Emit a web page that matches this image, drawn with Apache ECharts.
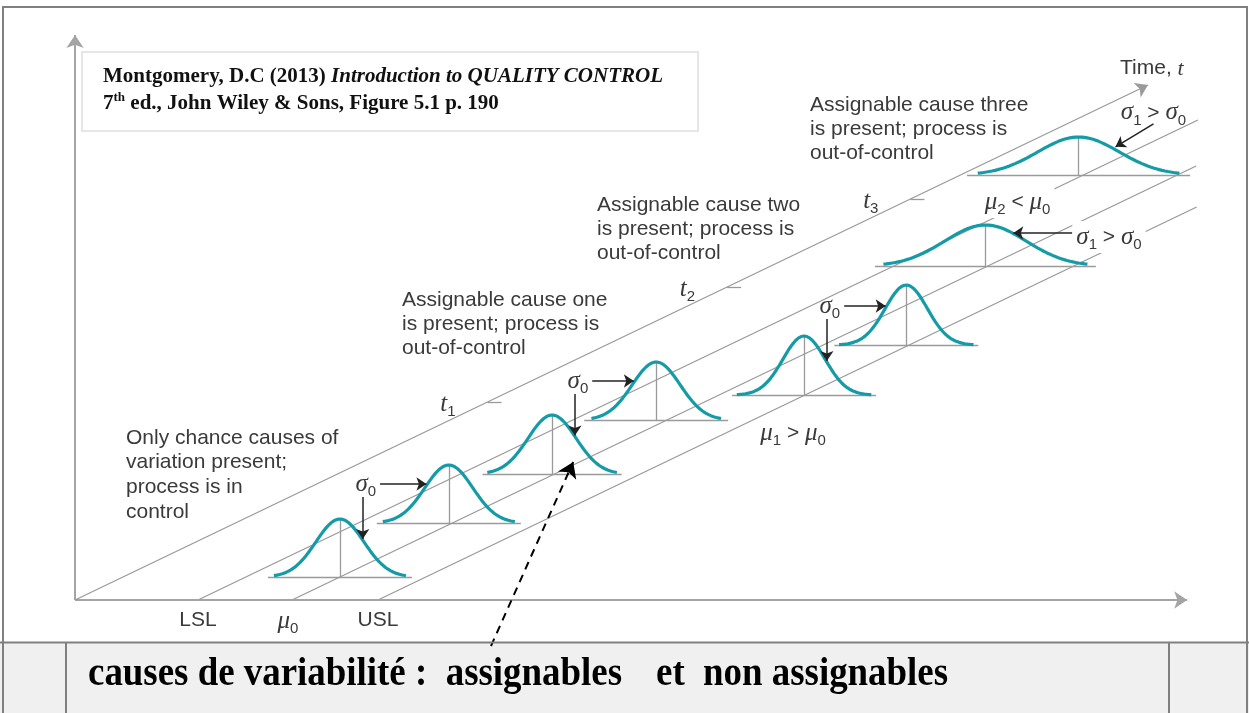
<!DOCTYPE html>
<html>
<head>
<meta charset="utf-8">
<script src="https://cdn.jsdelivr.net/npm/echarts@6/dist/echarts.min.js"></script>
<style>
  html, body { margin: 0; padding: 0; background: #fff; }
  #chart { width: 1249px; height: 713px; }
</style>
</head>
<body>
<div id="chart"></div>
<script>
// ---- values --------------------------------------------------------------
// Quality characteristic, in units of sigma0 (mu0 = 0)
const specNames  = ['LSL', 'μ0', 'USL'];
const specValues = [-3.92, 0, 3.58];
const specLineEnds = [4.80, 4.34, 3.93];   // time at which each guide line stops
const timeAxisValue = -9.04;               // the time axis sits left of the spec lines
const timeAxisEnd = 5.15;
const xAxisEnd = 37.3;
const densityAxisTop = 565;

// Distributions drawn along time
const distTimes  = [0.23, 0.77, 1.26, 1.80, 2.05, 2.55, 3.34, 4.25];
const distMeans  = [0, -0.15, -0.1, -0.45, 3.54, 3.46, -0.1, -4.12];
const distSigmas = [1, 1, 1, 1, 0.88, 0.88, 1.7, 1.7];
const distPeaks  = [58, 58, 59, 58, 59, 60, 41, 38];
const distSpans  = [2.75, 2.75, 2.7, 2.7, 2.8, 2.8, 4.25, 4.2];
const baseSpans  = [3.0, 3.0, 2.9, 3.0, 3.0, 3.0, 4.6, 4.65];

// Time ticks
const timeTicks = [1.98, 3.13, 4.01];
const timeTickLabels = ['1', '2', '3'];

// sigma0 annotations: [earlier curve, later curve]
const sigma0Pairs = [[0, 1], [2, 3], [4, 5]];

// ---- layout --------------------------------------------------------------
const W = 1249, H = 713;
const ORIGIN_Y = 600, MU0_X = 292, UNIT = 24, TIME_PX = 100, SLOPE = 0.48;
const TEAL = '#159ba7', GUIDE = '#9a9a9a', AXIS = '#a4a4a4', INK = '#3a3a3a', ARROW = '#222';
const SANS = '"Liberation Sans", Arial, sans-serif';
const SERIF = '"Liberation Serif", "Times New Roman", serif';

// skewed plane: value runs horizontally, time runs up the diagonal
function P(v, t, up) {
  return [MU0_X + v * UNIT + t * TIME_PX / SLOPE, ORIGIN_Y - t * TIME_PX - (up || 0)];
}
function dens(i, v) {
  const z = (v - distMeans[i]) / distSigmas[i];
  return distPeaks[i] * Math.exp(-0.5 * z * z);
}
function flankOffset(i, h) { // offset (value units) where curve i reaches height h
  return distSigmas[i] * Math.sqrt(-2 * Math.log(h / distPeaks[i]));
}

// ---- series ----------------------------------------------------------------
const guideLines = [];
specValues.forEach((v, k) => guideLines.push({ coords: [P(v, 0), P(v, specLineEnds[k])] }));
timeTicks.forEach(t => {
  const a = P(timeAxisValue, t);
  guideLines.push({ coords: [a, [a[0] + 14, a[1]]] });
});

const baseLines = [];
const curveSeries = [];
distTimes.forEach((t, i) => {
  const m = distMeans[i];
  baseLines.push({ coords: [P(m - baseSpans[i], t), P(m + baseSpans[i], t)] });
  baseLines.push({ coords: [P(m, t), P(m, t, distPeaks[i])] });
  const pts = [];
  const n = 140;
  for (let k = 0; k <= n; k++) {
    const v = m - distSpans[i] + 2 * distSpans[i] * k / n;
    pts.push(P(v, t, dens(i, v)));
  }
  curveSeries.push({
    type: 'line', data: pts, showSymbol: false, symbol: 'none', silent: true, z: 6,
    lineStyle: { color: TEAL, width: 3.2 }
  });
});

// arrows and labels
const arrows = [];
const graphics = [];
const mctx = document.createElement('canvas').getContext('2d');
function tw(text, font) { mctx.font = font; return mctx.measureText(text).width; }
function runs(x, y, parts, align, opts) {
  opts = opts || {};
  const sx = opts.scaleX || 1;
  const total = parts.reduce((s, p) => s + tw(p[0], p[1]) * sx, 0);
  let cx = align === 'center' ? x - total / 2 : (align === 'right' ? x - total : x);
  if (opts.bg) {
    graphics.push({ type: 'rect', z: 15, shape: { x: cx - 4, y: y - 16, width: total + 8, height: 32 },
      style: { fill: '#fff' } });
  }
  parts.forEach(p => {
    graphics.push({ type: 'text', x: cx, y: y + (p[2] || 0), z: 20, scaleX: sx,
      style: { text: p[0], font: p[1], fill: p[3] || INK, textAlign: 'left', align: 'left',
               textVerticalAlign: 'middle', verticalAlign: 'middle' } });
    cx += tw(p[0], p[1]) * sx;
  });
  return total;
}
const F_GREEK = 'italic 25px ' + SERIF;
const F_SUB = '15px ' + SANS;
const F_OP = '21px ' + SANS;
function sym(g, s) { return [[g, F_GREEK, 0], [s, F_SUB, 8]]; }

sigma0Pairs.forEach(([a, b]) => {
  const ta = distTimes[a], tb = distTimes[b];
  const baseB = P(0, tb)[1];
  const labelY = baseB - 39;
  const vx = distMeans[a] + 0.95;
  const tip = P(vx, ta, dens(a, vx) + 1);
  arrows.push({ coords: [[tip[0], labelY + 13], tip] });
  const w = runs(tip[0] + 3, labelY, sym('σ', '0'), 'center');
  const hb = baseB - labelY;
  const target = P(distMeans[b] - flankOffset(b, hb), tb, hb);
  arrows.push({ coords: [[tip[0] + 3 + w / 2 + 4, labelY], [target[0] - 1, labelY]] });
});

// sigma1 > sigma0, curve 7
{
  const i = 6, h = 33;
  const tip = P(distMeans[i] + flankOffset(i, h), distTimes[i], h);
  arrows.push({ coords: [[tip[0] + 60, tip[1]], [tip[0] + 1, tip[1]]] });
  runs(tip[0] + 64, tip[1] + 4, [...sym('σ', '1'), [' > ', F_OP, 0], ...sym('σ', '0')], 'left', { bg: true });
}
// sigma1 > sigma0, curve 8
{
  const i = 7, dv = 1.54;
  const v = distMeans[i] + dv;
  const tip = P(v, distTimes[i], dens(i, v) + 3);
  const tail = [tip[0] + 38, tip[1] - 23];
  arrows.push({ coords: [tail, tip] });
  runs(tail[0], tail[1] - 11, [...sym('σ', '1'), [' > ', F_OP, 0], ...sym('σ', '0')], 'center');
}
// mean shifts
{
  const c5 = P(distMeans[4], distTimes[4]);
  runs(c5[0] - 11, c5[1] + 38, [...sym('μ', '1'), [' > ', F_OP, 0], ...sym('μ', '0')], 'center');
  const c8 = P(distMeans[7], distTimes[7]);
  runs(c8[0] - 61, c8[1] + 27, [...sym('μ', '2'), [' < ', F_OP, 0], ...sym('μ', '0')], 'center', { bg: true });
}
// time ticks
timeTicks.forEach((t, k) => {
  const a = P(timeAxisValue, t);
  runs(a[0] - 32, a[1] + 2, [['t', F_GREEK, 0], [timeTickLabels[k], F_SUB, 8]], 'right');
});
// spec labels
specNames.forEach((name, k) => {
  const p = P(specValues[k], 0);
  if (name === 'μ0') runs(p[0] - 4, p[1] + 21, sym('μ', '0'), 'center');
  else runs(p[0], p[1] + 20, [[name, '21px ' + SANS, 0]], 'center');
});

// dashed pointer into the third distribution
const dashTip = P(distMeans[2] + 0.88, distTimes[2], 12);

// axes
const origin = P(timeAxisValue, 0);
const axisArrows = [
  { coords: [origin, [origin[0], origin[1] - densityAxisTop]] },
  { coords: [origin, P(xAxisEnd, 0)] }
];
const timeAxis = [{ coords: [origin, P(timeAxisValue, timeAxisEnd)] }];

// ---- text blocks -----------------------------------------------------------
const F_TXT = '21px ' + SANS;
function block(x, y0, step, lines) {
  lines.forEach((s, k) => runs(x, y0 + k * step, [[s, F_TXT, 0]], 'left'));
}
block(126, 438, 24.7, ['Only chance causes of', 'variation present;', 'process is in', 'control']);
block(402, 300, 24, ['Assignable cause one', 'is present; process is', 'out-of-control']);
block(597, 205, 24, ['Assignable cause two', 'is present; process is', 'out-of-control']);
block(810, 105, 24, ['Assignable cause three', 'is present; process is', 'out-of-control']);
runs(1120, 68, [['Time, ', F_TXT, 0], ['t', 'italic 22px ' + SERIF, 1]], 'left');

// citation
const F_CB = 'bold 21px ' + SERIF, F_CBI = 'italic bold 21px ' + SERIF;
runs(103, 77, [['Montgomery, D.C (2013) ', F_CB, 0, '#111'], ['Introduction to QUALITY CONTROL', F_CBI, 0, '#111']], 'left');
runs(103, 104, [['7', F_CB, 0, '#111'], ['th', 'bold 13px ' + SERIF, -6, '#111'],
  [' ed., John Wiley & Sons, Figure 5.1 p. 190', F_CB, 0, '#111']], 'left');

// bottom caption (slightly condensed serif)
const F_BIG = 'bold 41px ' + SERIF;
const CAP = { scaleX: 0.9 };
runs(88, 674, [['causes de variabilité :  assignables', F_BIG, 0, '#000']], 'left', CAP);
runs(656, 674, [['et', F_BIG, 0, '#000']], 'left', CAP);
runs(703, 674, [['non assignables', F_BIG, 0, '#000']], 'left', CAP);

const frame = [
  { type: 'rect', z: 0, shape: { x: 0, y: 642, width: W, height: H - 642 }, style: { fill: '#f0f0f0' } },
  { type: 'rect', z: 1, shape: { x: 82, y: 52, width: 616, height: 79 }, style: { fill: '#fff', stroke: '#e6e6e6', lineWidth: 2 } },
  { type: 'line', z: 30, shape: { x1: 0, y1: 642.5, x2: W, y2: 642.5 }, style: { stroke: '#808080', lineWidth: 2 } },
  { type: 'line', z: 30, shape: { x1: 66, y1: 642, x2: 66, y2: H }, style: { stroke: '#808080', lineWidth: 2 } },
  { type: 'line', z: 30, shape: { x1: 1169, y1: 642, x2: 1169, y2: H }, style: { stroke: '#808080', lineWidth: 2 } },
  { type: 'rect', z: 30, shape: { x: 3, y: 7, width: W - 5, height: H - 5 }, style: { fill: 'none', stroke: '#808080', lineWidth: 2 } }
];

const chart = echarts.init(document.getElementById('chart'));
chart.setOption({
  animation: false,
  backgroundColor: '#fff',
  grid: { left: 0, right: 0, top: 0, bottom: 0 },
  xAxis: { type: 'value', min: 0, max: W, show: false },
  yAxis: { type: 'value', min: 0, max: H, inverse: true, show: false },
  graphic: { elements: frame.concat(graphics) },
  series: [
    { type: 'lines', coordinateSystem: 'cartesian2d', silent: true, z: 3, data: guideLines,
      lineStyle: { color: GUIDE, width: 1.3, opacity: 1 } },
    { type: 'lines', coordinateSystem: 'cartesian2d', silent: true, z: 3, data: baseLines,
      lineStyle: { color: GUIDE, width: 1.3, opacity: 1 } },
    { type: 'lines', coordinateSystem: 'cartesian2d', silent: true, z: 4, data: axisArrows,
      symbol: ['none', 'arrow'], symbolSize: 13,
      lineStyle: { color: AXIS, width: 2, opacity: 1 } },
    { type: 'lines', coordinateSystem: 'cartesian2d', silent: true, z: 4, data: timeAxis,
      symbol: ['none', 'arrow'], symbolSize: 12,
      lineStyle: { color: GUIDE, width: 1.3, opacity: 1 } },
    ...curveSeries,
    { type: 'lines', coordinateSystem: 'cartesian2d', silent: true, z: 8, data: arrows,
      symbol: ['none', 'arrow'], symbolSize: 10,
      lineStyle: { color: ARROW, width: 1.5, opacity: 1 } },
    { type: 'lines', coordinateSystem: 'cartesian2d', silent: true, z: 8,
      data: [{ coords: [[491, 646], dashTip] }],
      symbol: ['none', 'arrow'], symbolSize: 15,
      lineStyle: { color: '#000', width: 2, type: [8, 6], opacity: 1 } }
  ]
});
</script>
</body>
</html>
